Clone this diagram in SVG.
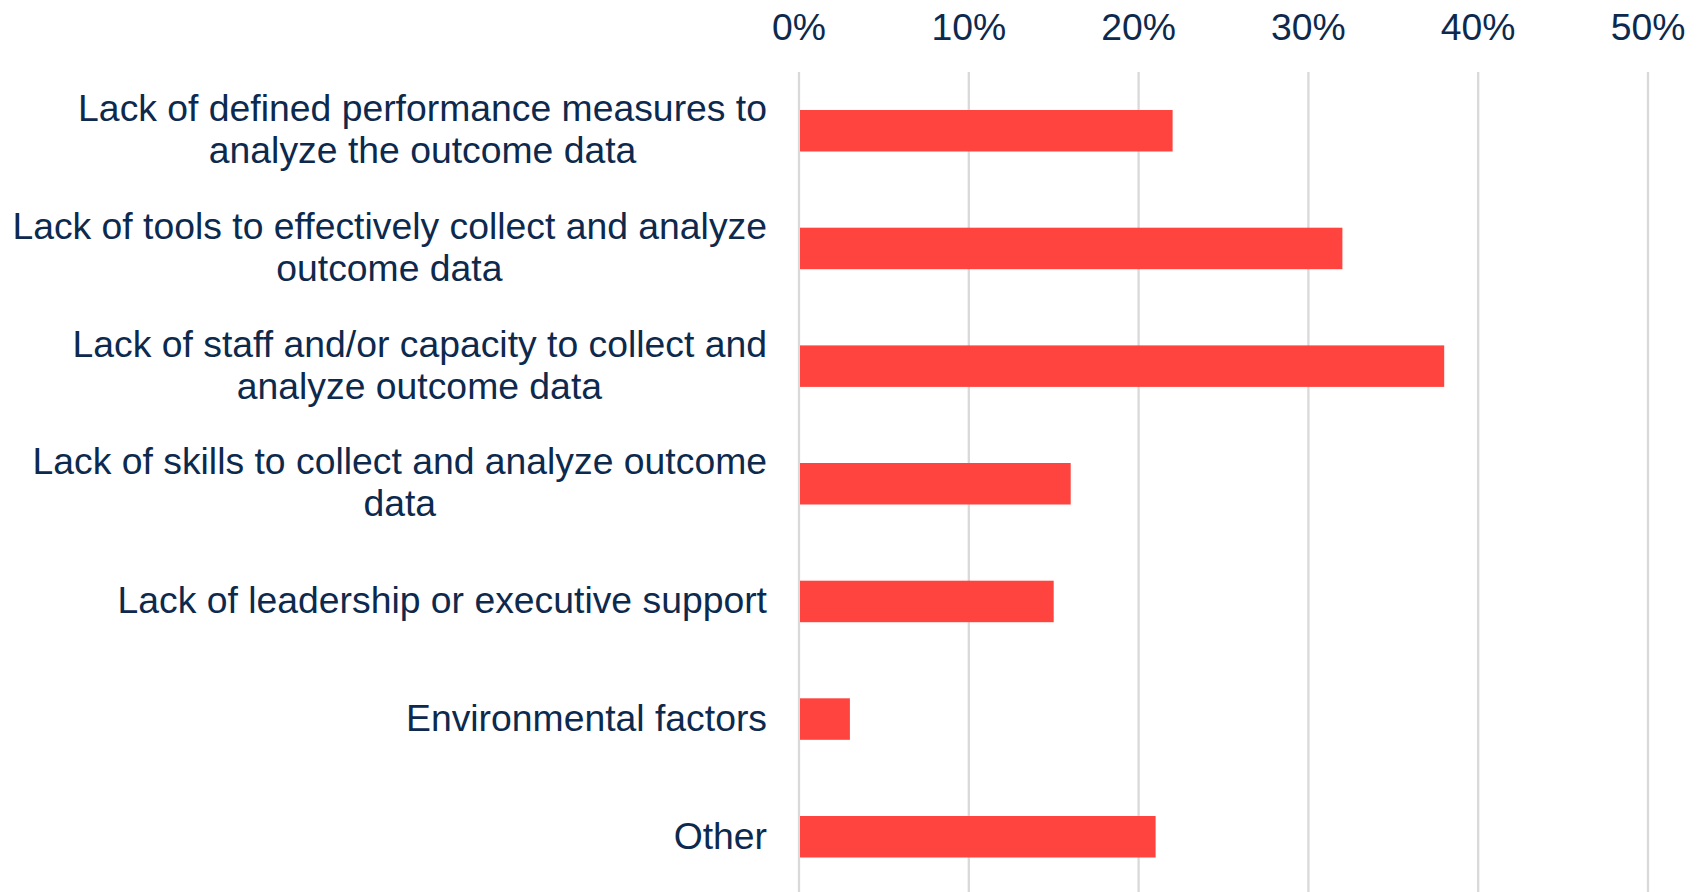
<svg xmlns="http://www.w3.org/2000/svg" width="1700" height="892" viewBox="0 0 1700 892">
<style>
text{font-family:"Liberation Sans",Arial,sans-serif;font-size:37.33px;fill:#0D2A4E}
.tick{text-anchor:middle}
.lab{text-anchor:end}
.mid{text-anchor:middle}
.grid line{stroke:#D9D9D9;stroke-width:2.3}
.bar{fill:#FF443F}
</style>
<rect width="1700" height="892" fill="#FFFFFF"/>
<g id="axis-ticks">
<text class="tick" x="799" y="40">0%</text>
<text class="tick" x="968.8" y="40">10%</text>
<text class="tick" x="1138.6" y="40">20%</text>
<text class="tick" x="1308.4" y="40">30%</text>
<text class="tick" x="1478.2" y="40">40%</text>
<text class="tick" x="1648" y="40">50%</text>
</g>
<g id="gridlines" class="grid">
<line x1="799" y1="72" x2="799" y2="892"/>
<line x1="968.8" y1="72" x2="968.8" y2="892"/>
<line x1="1138.6" y1="72" x2="1138.6" y2="892"/>
<line x1="1308.4" y1="72" x2="1308.4" y2="892"/>
<line x1="1478.2" y1="72" x2="1478.2" y2="892"/>
<line x1="1648" y1="72" x2="1648" y2="892"/>
</g>
<g id="bar-1">
<rect class="bar" x="800" y="110" width="372.6" height="41.5"/>
<text class="lab" x="767" y="121">Lack of defined performance measures to</text>
<text class="mid" x="422.6" y="163">analyze the outcome data</text>
</g>
<g id="bar-2">
<rect class="bar" x="800" y="227.7" width="542.4" height="41.5"/>
<text class="lab" x="767" y="238.5">Lack of tools to effectively collect and analyze</text>
<text class="mid" x="389.4" y="280.5">outcome data</text>
</g>
<g id="bar-3">
<rect class="bar" x="800" y="345.4" width="644.2" height="41.5"/>
<text class="lab" x="767" y="357">Lack of staff and/or capacity to collect and</text>
<text class="mid" x="419.4" y="399">analyze outcome data</text>
</g>
<g id="bar-4">
<rect class="bar" x="800" y="463" width="270.7" height="41.5"/>
<text class="lab" x="767" y="473.8">Lack of skills to collect and analyze outcome</text>
<text class="mid" x="399.8" y="515.8">data</text>
</g>
<g id="bar-5">
<rect class="bar" x="800" y="580.7" width="253.7" height="41.5"/>
<text class="lab" x="767" y="613.3">Lack of leadership or executive support</text>
</g>
<g id="bar-6">
<rect class="bar" x="800" y="698.3" width="49.9" height="41.5"/>
<text class="lab" x="767" y="731">Environmental factors</text>
</g>
<g id="bar-7">
<rect class="bar" x="800" y="816" width="355.6" height="41.5"/>
<text class="lab" x="767" y="849">Other</text>
</g>
</svg>
